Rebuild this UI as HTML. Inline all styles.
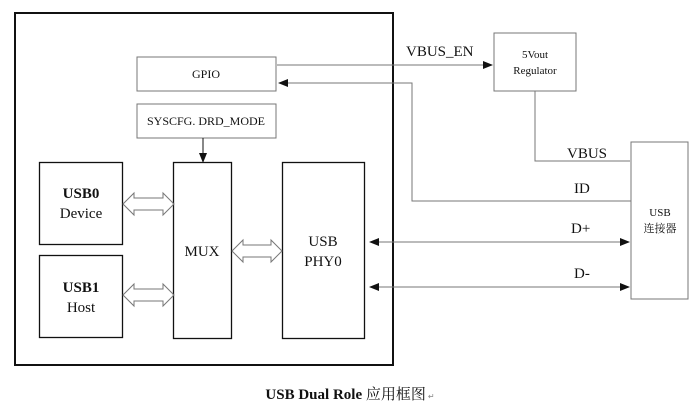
<!DOCTYPE html>
<html><head><meta charset="utf-8"><style>
html,body{margin:0;padding:0;background:#fff;width:700px;height:408px;overflow:hidden}
svg{display:block}
text{font-family:"Liberation Serif","Noto Serif CJK SC",serif;fill:#111}
</style></head><body>
<svg width="700" height="408" viewBox="0 0 700 408" xmlns="http://www.w3.org/2000/svg">
<defs>
<marker id="a" markerWidth="10" markerHeight="8" refX="9" refY="4" orient="auto" markerUnits="userSpaceOnUse"><path d="M0,0 L10,4 L0,8 z" fill="#111"/></marker>
<marker id="b" markerWidth="10" markerHeight="8" refX="1" refY="4" orient="auto" markerUnits="userSpaceOnUse"><path d="M10,0 L0,4 L10,8 z" fill="#111"/></marker>
</defs>
<rect x="15" y="13" width="378" height="352" fill="none" stroke="#111" stroke-width="2"/>
<rect x="137" y="57" width="139" height="34" fill="none" stroke="#777" stroke-width="1"/>
<text x="206" y="78" font-size="12" text-anchor="middle">GPIO</text>
<rect x="137" y="104" width="139" height="34" fill="none" stroke="#777" stroke-width="1"/>
<text x="206" y="125" font-size="12" text-anchor="middle">SYSCFG. DRD_MODE</text>
<line x1="203" y1="138" x2="203" y2="162" stroke="#111" marker-end="url(#a)"/>
<rect x="39.5" y="162.5" width="83" height="82" fill="none" stroke="#111" stroke-width="1.3"/>
<text x="81" y="198" font-size="15" font-weight="bold" text-anchor="middle">USB0</text>
<text x="81" y="218" font-size="15" text-anchor="middle">Device</text>
<rect x="39.5" y="255.5" width="83" height="82" fill="none" stroke="#111" stroke-width="1.3"/>
<text x="81" y="292" font-size="15" font-weight="bold" text-anchor="middle">USB1</text>
<text x="81" y="312" font-size="15" text-anchor="middle">Host</text>
<rect x="173.5" y="162.5" width="58" height="176" fill="none" stroke="#111" stroke-width="1.3"/>
<text x="202" y="256" font-size="15" text-anchor="middle">MUX</text>
<rect x="282.5" y="162.5" width="82" height="176" fill="none" stroke="#111" stroke-width="1.3"/>
<text x="323" y="246" font-size="15" text-anchor="middle">USB</text>
<text x="323" y="266" font-size="15" text-anchor="middle">PHY0</text>
<g fill="none" stroke="#777" stroke-width="1">
<path d="M123,204 L134,193 L134,198 L163,198 L163,193 L174,204 L163,215 L163,210 L134,210 L134,215 Z"/>
<path d="M123,295 L134,284 L134,289 L163,289 L163,284 L174,295 L163,306 L163,301 L134,301 L134,306 Z"/>
<path d="M232,251 L243,240 L243,245 L271,245 L271,240 L282,251 L271,262 L271,257 L243,257 L243,262 Z"/>
</g>
<rect x="494" y="33" width="82" height="58" fill="none" stroke="#777"/>
<text x="535" y="58" font-size="11" text-anchor="middle">5Vout</text>
<text x="535" y="74" font-size="11" text-anchor="middle">Regulator</text>
<rect x="631" y="142" width="57" height="157" fill="none" stroke="#777"/>
<text x="660" y="216" font-size="11" text-anchor="middle">USB</text>
<text x="660" y="232" font-size="11" text-anchor="middle">连接器</text>
<g stroke="#777" fill="none">
<line x1="277" y1="65" x2="492" y2="65" marker-end="url(#a)"/>
<polyline points="631,201 412,201 412,83 279,83" marker-end="url(#a)"/>
<polyline points="535,91 535,161 630,161"/>
<line x1="370" y1="242" x2="629" y2="242" marker-start="url(#b)" marker-end="url(#a)"/>
<line x1="370" y1="287" x2="629" y2="287" marker-start="url(#b)" marker-end="url(#a)"/>
</g>
<text x="406" y="56" font-size="15">VBUS_EN</text>
<text x="567" y="158" font-size="15">VBUS</text>
<text x="574" y="193" font-size="15">ID</text>
<text x="571" y="233" font-size="15">D+</text>
<text x="574" y="278" font-size="15">D-</text>
<text x="350" y="399" font-size="15" text-anchor="middle"><tspan font-weight="bold">USB Dual Role</tspan> 应用框图<tspan font-size="8" fill="#888"> ↵</tspan></text>
</svg>
</body></html>
